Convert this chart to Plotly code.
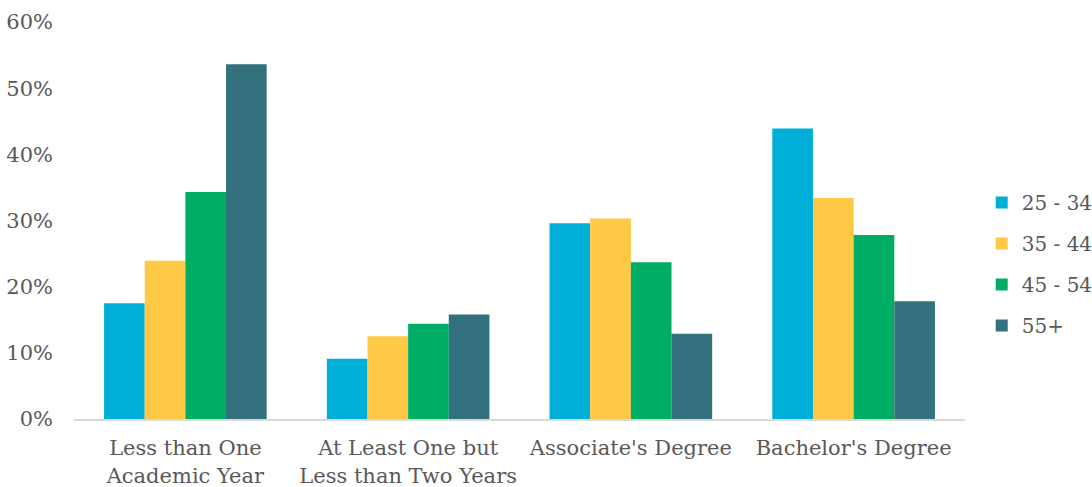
import plotly.graph_objects as go

categories = ["Less than One<br>Academic Year", "At Least One but<br>Less than Two Years",
              "Associate's Degree", "Bachelor's Degree"]
series_names = ["25 - 34", "35 - 44", "45 - 54", "55+"]
v_25_34 = [0.175, 0.091, 0.296, 0.439]
v_35_44 = [0.239, 0.125, 0.303, 0.334]
v_45_54 = [0.343, 0.144, 0.237, 0.278]
v_55 = [0.536, 0.158, 0.129, 0.178]
values = [v_25_34, v_35_44, v_45_54, v_55]
colors = ["#00AFD7", "#FFC845", "#00AD65", "#32717D"]

FONT = "DejaVu Serif"
FS = 21
fig = go.Figure()
for name, vals, c in zip(series_names, values, colors):
    fig.add_trace(go.Bar(x=categories, y=vals, name=name, marker_color=c,
                         marker_line_width=0, legendgroup=name))

fig.update_layout(
    width=1092, height=487,
    margin=dict(l=74, r=127, t=22, b=68, autoexpand=False),
    barmode="group", bargap=0.27, bargroupgap=0,
    plot_bgcolor="white", paper_bgcolor="white",
    font=dict(family=FONT, color="#595959", size=FS),
    legend=dict(xref="container", yref="container", x=0.899, xanchor="left",
                y=0.458, yanchor="middle",
                font=dict(size=20, family=FONT, color="#595959"),
                tracegroupgap=12, itemwidth=30),
    showlegend=True,
)
fig.update_xaxes(showline=True, linecolor="#D9D9D9", linewidth=2, ticks="",
                 ticklabelstandoff=9,
                 tickfont=dict(size=FS, family=FONT, color="#595959"))
fig.update_yaxes(range=[0, 0.6], dtick=0.1, tickformat=".0%", showgrid=False,
                 zeroline=False, showline=False, ticks="", ticklabelstandoff=20,
                 tickfont=dict(size=FS, family=FONT, color="#595959"))
fig.write_html("out.html", config={"displayModeBar": False},
               post_script="document.body.style.margin='0';window.dispatchEvent(new Event('resize'));")
